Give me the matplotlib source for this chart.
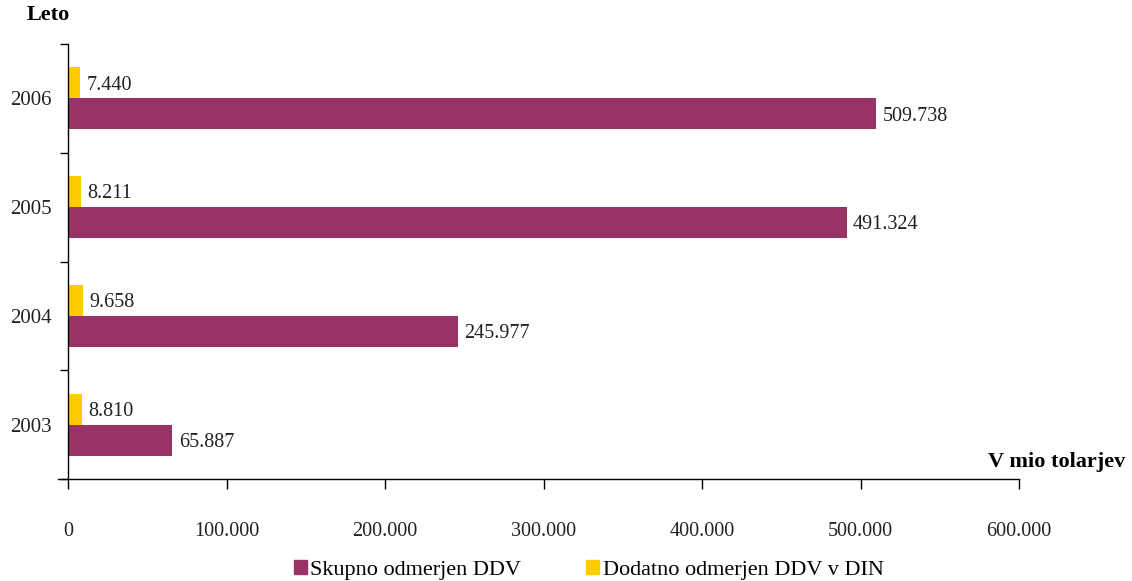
import matplotlib
matplotlib.use("Agg")
import matplotlib.pyplot as plt
from matplotlib.ticker import FuncFormatter
from matplotlib.patches import Patch

years = ["2003", "2004", "2005", "2006"]
skupno = [65887, 245977, 491324, 509738]
dodatno = [8810, 9658, 8211, 7440]
xticks = [0, 100000, 200000, 300000, 400000, 500000, 600000]

purple = "#993366"
yellow = "#FFCC00"

plt.rcParams["font.family"] = ["Liberation Serif", "DejaVu Serif"]


def fmt(v, pos=None):
    return f"{int(v):,}".replace(",", ".")


fig = plt.figure(figsize=(11.32, 5.81), dpi=100)
ax = fig.add_axes([68 / 1132, 1 - 479 / 581, (1019 - 68) / 1132, (479 - 44) / 581])

h = 0.285
pos = list(range(len(years)))
ax.barh([p - h / 2 for p in pos], skupno, height=h, color=purple, label="Skupno odmerjen DDV")
ax.barh([p + h / 2 for p in pos], dodatno, height=h, color=yellow, label="Dodatno odmerjen DDV v DIN")

for p, v in zip(pos, skupno):
    ax.text(v + 4000, p - h / 2 - 0.02, fmt(v), va="center", ha="left", fontsize=14.5, color="#222222")
for p, v in zip(pos, dodatno):
    ax.text(v + 4000, p + h / 2 - 0.02, fmt(v), va="center", ha="left", fontsize=14.5, color="#222222")

ax.set_xlim(0, 600000)
ax.set_ylim(-0.5, len(years) - 0.5)
ax.set_xticks(xticks)
ax.xaxis.set_major_formatter(FuncFormatter(fmt))
ax.set_yticks(pos)
ax.set_yticklabels(years)
ax.set_yticks([p - 0.5 for p in pos] + [len(years) - 0.5], minor=True)
ax.tick_params(axis="y", which="major", length=0, pad=12, labelsize=15, labelcolor="#222222")
ax.tick_params(axis="y", which="minor", length=6, width=1, direction="out")
ax.tick_params(axis="x", which="major", length=7, width=1, direction="out", pad=24,
               labelsize=14.5, labelcolor="#222222")

for s in ("top", "right"):
    ax.spines[s].set_visible(False)
ax.spines["left"].set_linewidth(1)
ax.spines["bottom"].set_linewidth(1)
ax.spines["bottom"].set_bounds(-6000, 600000)

fig.text(27 / 1132, 1 - 15 / 581, "Leto", fontsize=16, fontweight="bold", va="center", ha="left")
fig.text(1125 / 1132, 1 - 462 / 581, "V mio tolarjev", fontsize=16, fontweight="bold",
         va="center", ha="right")

handles = [Patch(color=purple, label="Skupno odmerjen DDV"),
           Patch(color=yellow, label="Dodatno odmerjen DDV v DIN")]
fig.legend(handles=handles, loc="center", bbox_to_anchor=(0.52, 1 - 570 / 581), ncol=2,
           frameon=False, fontsize=16, handlelength=0.6, handleheight=0.6,
           handletextpad=0.15, columnspacing=2.9, borderpad=0)

fig.savefig("out.png", dpi=100)
